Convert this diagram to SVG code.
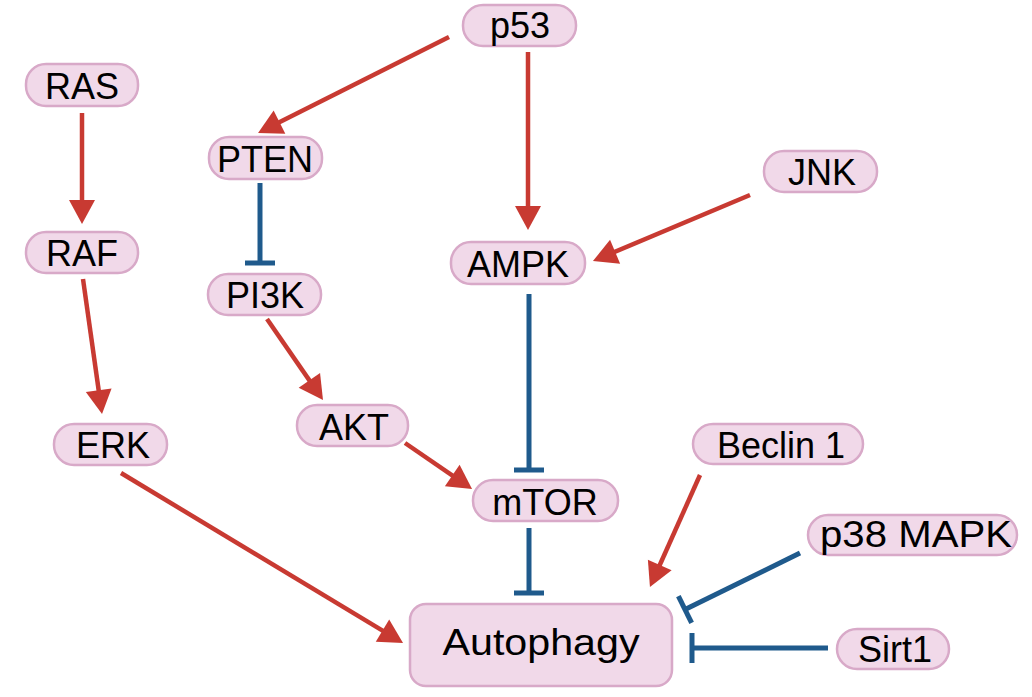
<svg xmlns="http://www.w3.org/2000/svg" width="1032" height="697" viewBox="0 0 1032 697">
<style>
.n rect{fill:#f1d9e9;stroke:#d8a9c8;stroke-width:2.5}
.n text{font-family:"Liberation Sans",Arial,sans-serif;font-size:36px;fill:#000;text-anchor:middle}
.act{stroke:#c83a32;stroke-width:4.5;fill:none;marker-end:url(#arr)}
.inh{stroke:#1f5a8c;stroke-width:5;fill:none;marker-end:url(#tee)}
</style>
<defs>
<marker id="arr" markerUnits="userSpaceOnUse" viewBox="0 -13 24 26" markerWidth="24" markerHeight="26" refX="18" refY="0" orient="auto" overflow="visible">
<path d="M0,-13 L24,0 L0,13 Z" fill="#c83a32"/>
</marker>
<marker id="tee" markerUnits="userSpaceOnUse" viewBox="-5 -17 10 34" markerWidth="10" markerHeight="34" refX="0" refY="0" orient="auto" overflow="visible">
<path d="M0,-15 V15" stroke="#1f5a8c" stroke-width="5"/>
</marker>
</defs>
<rect width="1032" height="697" fill="#fff"/>
<g id="connectors">
<line class="act" x1="82" y1="113" x2="82" y2="218"/>
<line class="act" x1="83" y1="279" x2="101.2" y2="408.1"/>
<line class="act" x1="449" y1="37" x2="263.4" y2="130.3"/>
<line class="act" x1="528" y1="52" x2="528" y2="224"/>
<line class="act" x1="750" y1="195" x2="598.5" y2="258.7"/>
<line class="inh" x1="260" y1="183" x2="260" y2="263"/>
<line class="act" x1="267" y1="319" x2="319.6" y2="395.1"/>
<line class="inh" x1="529" y1="294" x2="529" y2="470"/>
<line class="act" x1="405" y1="443" x2="467.1" y2="485.6"/>
<line class="act" x1="121" y1="473" x2="397.9" y2="639.9"/>
<line class="inh" x1="529" y1="528" x2="529" y2="593"/>
<line class="act" x1="700" y1="475" x2="652.4" y2="581.5"/>
<line class="inh" x1="800" y1="553" x2="685" y2="609.5"/>
<line class="inh" x1="828" y1="648" x2="692" y2="648"/>
</g>
<g id="RAS" class="n"><rect x="26" y="64" width="112" height="42" rx="20"/><text x="82" y="99">RAS</text></g>
<g id="RAF" class="n"><rect x="26" y="232" width="112" height="41" rx="20"/><text x="82" y="266">RAF</text></g>
<g id="PTEN" class="n"><rect x="209" y="137" width="113" height="42" rx="20"/><text x="265" y="172">PTEN</text></g>
<g id="PI3K" class="n"><rect x="208" y="274" width="113" height="41" rx="20"/><text x="265" y="308">PI3K</text></g>
<g id="p53" class="n"><rect x="463" y="5" width="113" height="41" rx="20"/><text x="520" y="38">p53</text></g>
<g id="JNK" class="n"><rect x="764" y="151" width="113" height="41" rx="20"/><text x="822" y="185">JNK</text></g>
<g id="AMPK" class="n"><rect x="451" y="242" width="134" height="42" rx="20"/><text x="518" y="277">AMPK</text></g>
<g id="ERK" class="n"><rect x="54" y="424" width="113" height="41" rx="20"/><text x="113" y="458">ERK</text></g>
<g id="AKT" class="n"><rect x="297" y="405" width="111" height="41" rx="20"/><text x="354" y="440">AKT</text></g>
<g id="mTOR" class="n"><rect x="473" y="480" width="145" height="41" rx="20"/><text x="545" y="515">mTOR</text></g>
<g id="Beclin1" class="n"><rect x="693" y="424" width="170" height="40" rx="20"/><text x="781" y="458">Beclin 1</text></g>
<g id="p38MAPK" class="n"><rect x="808" y="515" width="209" height="40" rx="20"/><text x="916" y="547" textLength="192" lengthAdjust="spacingAndGlyphs">p38 MAPK</text></g>
<g id="Sirt1" class="n"><rect x="837" y="629" width="112" height="40" rx="20"/><text x="895" y="662">Sirt1</text></g>
<g id="Autophagy" class="n"><rect x="410" y="604" width="262" height="82" rx="16"/><text x="541" y="655" textLength="197" lengthAdjust="spacingAndGlyphs">Autophagy</text></g>
</svg>
